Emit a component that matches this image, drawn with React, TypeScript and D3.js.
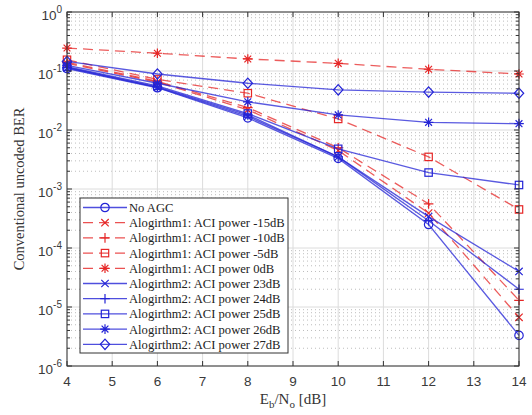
import React, { useEffect, useRef } from 'react';
import * as d3 from 'd3';

// Eb/No points (dB)
const ebno = [4, 6, 8, 10, 12, 14];
const xTickValues = [4, 5, 6, 7, 8, 9, 10, 11, 12, 13, 14];
const yExponents = [0, -1, -2, -3, -4, -5, -6];

// BER
const noAgc = [0.11, 0.052, 0.016, 0.0033, 0.00025, 3.3e-6];
const alg1m15 = [0.135, 0.065, 0.022, 0.0045, 0.00039, 6.7e-6];
const alg1m10 = [0.14, 0.067, 0.024, 0.005, 0.00056, 1.3e-5];
const alg1m5 = [0.155, 0.072, 0.042, 0.0154, 0.0035, 0.00045];
const alg1p0 = [0.245, 0.2, 0.16, 0.135, 0.107, 0.089];
const alg2p23 = [0.113, 0.053, 0.017, 0.0035, 0.00034, 4.0e-5];
const alg2p24 = [0.115, 0.054, 0.018, 0.0035, 0.00029, 2.0e-5];
const alg2p25 = [0.118, 0.056, 0.019, 0.0048, 0.0019, 0.00117];
const alg2p26 = [0.125, 0.062, 0.030, 0.018, 0.0135, 0.0128];
const alg2p27 = [0.145, 0.089, 0.062, 0.048, 0.044, 0.042];

const labels = [
  'No AGC',
  'Alogirthm1: ACI power -15dB',
  'Alogirthm1: ACI power -10dB',
  'Alogirthm1: ACI power -5dB',
  'Alogirthm1: ACI power 0dB',
  'Alogirthm2: ACI power 23dB',
  'Alogirthm2: ACI power 24dB',
  'Alogirthm2: ACI power 25dB',
  'Alogirthm2: ACI power 26dB',
  'Alogirthm2: ACI power 27dB',
];
const markers = ['circle', 'x', 'plus', 'square', 'star', 'x', 'plus', 'square', 'star', 'diamond'];
const values = [noAgc, alg1m15, alg1m10, alg1m5, alg1p0, alg2p23, alg2p24, alg2p25, alg2p26, alg2p27];

const BLUE = '#2323d6';
const RED = '#e62626';

const App = () => {
  const svgRef = useRef<SVGSVGElement>(null);

  useEffect(() => {
    if (!svgRef.current) return;
    const svg = d3.select(svgRef.current);
    svg.selectAll('*').remove();

    const width = 532;
    const height = 415;
    const left = 67, right = 519, top = 12, bottom = 366;

    svg.append('rect').attr('width', width).attr('height', height).attr('fill', '#fff');

    const x = d3.scaleLinear().domain([4, 14]).range([left, right]);
    const y = d3.scaleLog().domain([1e-6, 1]).range([bottom, top]);

    const series = labels.map((label, i) => ({
      label,
      marker: markers[i],
      color: i >= 1 && i <= 4 ? RED : BLUE,
      dashed: i >= 1 && i <= 4,
      points: ebno.map((e, j) => ({ x: e, y: values[i][j] })),
    }));

    const grid = svg.append('g');
    // minor log grid (dotted)
    yExponents.slice(0, -1).forEach(p => {
      for (let k = 2; k <= 9; k++) {
        const v = k * Math.pow(10, p - 1);
        grid.append('line')
          .attr('x1', left).attr('x2', right)
          .attr('y1', y(v)).attr('y2', y(v))
          .attr('stroke', '#bdbdbd')
          .attr('stroke-width', 1)
          .attr('stroke-dasharray', '1,3');
      }
    });
    // major grid
    yExponents.forEach(p => {
      grid.append('line')
        .attr('x1', left).attr('x2', right)
        .attr('y1', y(Math.pow(10, p))).attr('y2', y(Math.pow(10, p)))
        .attr('stroke', '#dcdcdc');
    });
    xTickValues.forEach(t => {
      grid.append('line')
        .attr('x1', x(t)).attr('x2', x(t))
        .attr('y1', top).attr('y2', bottom)
        .attr('stroke', '#dcdcdc');
    });

    const drawMarker = (g: any, type: string, cx: number, cy: number, color: string) => {
      const m = g.append('g').attr('transform', `translate(${cx},${cy})`)
        .attr('fill', 'none').attr('stroke', color).attr('stroke-width', 1.2);
      if (type === 'circle') m.append('circle').attr('r', 4.2);
      if (type === 'square') m.append('rect').attr('x', -3.7).attr('y', -3.7).attr('width', 7.4).attr('height', 7.4);
      if (type === 'x') m.append('path').attr('d', 'M-3.7,-3.7L3.7,3.7M-3.7,3.7L3.7,-3.7');
      if (type === 'plus') m.append('path').attr('d', 'M-4.8,0H4.8M0,-4.8V4.8');
      if (type === 'star') m.append('path').attr('d', 'M-4.8,0H4.8M0,-4.8V4.8M-3.4,-3.4L3.4,3.4M-3.4,3.4L3.4,-3.4');
      if (type === 'diamond') m.append('path').attr('d', 'M0,-5.2L4.7,0L0,5.2L-4.7,0Z');
    };

    const line = d3.line<{ x: number; y: number }>().x(d => x(d.x)).y(d => y(d.y));
    const plot = svg.append('g');
    series.forEach(s => {
      plot.append('path')
        .attr('d', line(s.points))
        .attr('fill', 'none')
        .attr('stroke', s.color)
        .attr('stroke-opacity', 0.75)
        .attr('stroke-width', 1.3)
        .attr('stroke-dasharray', s.dashed ? '10,6' : null);
      s.points.forEach(p => drawMarker(plot, s.marker, x(p.x), y(p.y), s.color));
    });

    // axes box and ticks
    const ax = svg.append('g').attr('stroke', '#333').attr('stroke-width', 1);
    ax.append('rect')
      .attr('x', left).attr('y', top)
      .attr('width', right - left).attr('height', bottom - top)
      .attr('fill', 'none');
    xTickValues.forEach(t => {
      ax.append('line').attr('x1', x(t)).attr('x2', x(t)).attr('y1', bottom).attr('y2', bottom - 5);
      ax.append('line').attr('x1', x(t)).attr('x2', x(t)).attr('y1', top).attr('y2', top + 5);
    });
    yExponents.forEach(p => {
      const yy = y(Math.pow(10, p));
      ax.append('line').attr('x1', left).attr('x2', left + 5).attr('y1', yy).attr('y2', yy);
      ax.append('line').attr('x1', right).attr('x2', right - 5).attr('y1', yy).attr('y2', yy);
      if (p > -6) {
        for (let k = 2; k <= 9; k++) {
          const ym = y(k * Math.pow(10, p - 1));
          ax.append('line').attr('x1', left).attr('x2', left + 3).attr('y1', ym).attr('y2', ym);
          ax.append('line').attr('x1', right).attr('x2', right - 3).attr('y1', ym).attr('y2', ym);
        }
      }
    });

    // tick labels
    const font = "'Liberation Sans', Arial, sans-serif";
    xTickValues.forEach(t => {
      svg.append('text')
        .attr('x', x(t)).attr('y', 386)
        .attr('text-anchor', 'middle')
        .attr('font-family', font).attr('font-size', '13.5px').attr('fill', '#3a3a3a')
        .text(t);
    });
    yExponents.forEach(p => {
      const txt = svg.append('text')
        .attr('x', 62).attr('y', y(Math.pow(10, p)) + 8)
        .attr('text-anchor', 'end')
        .attr('font-family', font).attr('font-size', '13.5px').attr('fill', '#3a3a3a');
      txt.append('tspan').text('10');
      txt.append('tspan').attr('dy', -7).attr('font-size', '10px').text(String(p));
    });

    // axis titles
    const serif = "'Liberation Serif', 'Times New Roman', serif";
    svg.append('text')
      .attr('transform', `translate(24,${(top + bottom) / 2}) rotate(-90)`)
      .attr('text-anchor', 'middle')
      .attr('font-family', serif).attr('font-size', '14.5px').attr('fill', '#333')
      .text('Conventional uncoded BER');

    const xl = svg.append('text')
      .attr('x', (left + right) / 2).attr('y', 404)
      .attr('text-anchor', 'middle')
      .attr('font-family', serif).attr('font-size', '15px').attr('fill', '#333');
    xl.append('tspan').text('E');
    xl.append('tspan').attr('dy', 4).attr('font-size', '11px').text('b');
    xl.append('tspan').attr('dy', -4).text('/N');
    xl.append('tspan').attr('dy', 4).attr('font-size', '11px').text('o');
    xl.append('tspan').attr('dy', -4).text(' [dB]');

    // legend
    const lg = svg.append('g');
    lg.append('rect')
      .attr('x', 80).attr('y', 198).attr('width', 208).attr('height', 155)
      .attr('fill', '#fff').attr('stroke', '#333').attr('stroke-width', 1);
    series.forEach((s, i) => {
      const yy = 207.5 + i * 15.2;
      lg.append('line')
        .attr('x1', 83).attr('x2', 127).attr('y1', yy).attr('y2', yy)
        .attr('stroke', s.color).attr('stroke-opacity', 0.8).attr('stroke-width', 1.3)
        .attr('stroke-dasharray', s.dashed ? '10,6' : null);
      drawMarker(lg, s.marker, 105, yy, s.color);
      lg.append('text')
        .attr('x', 129).attr('y', yy + 4.5)
        .attr('font-family', serif).attr('font-size', '12.6px').attr('fill', '#222')
        .text(s.label);
    });
  }, []);

  return (
    <div style={{ position: 'absolute', left: 0, top: 0 }}>
      <svg ref={svgRef} width={532} height={415} style={{ display: 'block' }}></svg>
    </div>
  );
};

export default App;
